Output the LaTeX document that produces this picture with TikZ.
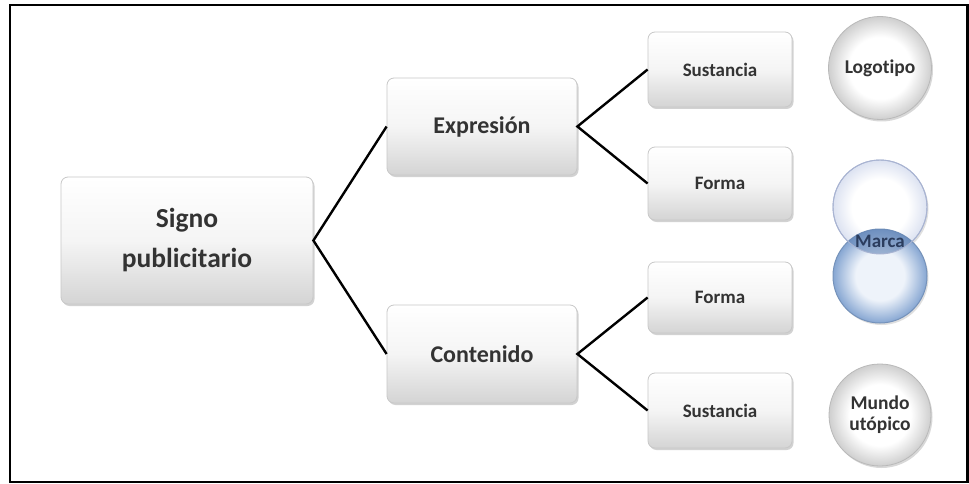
\documentclass[tikz,border=0pt]{standalone}
\usepackage{fontspec}
\setmainfont{Carlito}[Ligatures=NoCommon]
\usetikzlibrary{shadows,shapes.geometric}
\definecolor{txt}{HTML}{333333}
\definecolor{edgegray}{HTML}{C8C8C8}
\definecolor{boxbot}{HTML}{D4D4D4}
\definecolor{blueedge}{HTML}{7592BA}
\definecolor{blueout}{HTML}{86A6D2}
\definecolor{bluein}{HTML}{EEF3FA}
\definecolor{paleedge}{HTML}{A9B4D2}
\definecolor{paleout}{HTML}{DCE2F1}
\definecolor{overlap}{HTML}{5F82B4}
\definecolor{marcatxt}{HTML}{2B3D5E}
\pgfdeclareradialshading{ballshade}{\pgfpointorigin}{color(0bp)=(white); color(15bp)=(white); color(25bp)=(gray!38); color(50bp)=(gray!38)}
\pgfdeclareradialshading{paleshade}{\pgfpointorigin}{color(0bp)=(white); color(15bp)=(white); color(25bp)=(paleout); color(50bp)=(paleout)}
\pgfdeclareradialshading{blueshade}{\pgfpointorigin}{color(0bp)=(bluein); color(13bp)=(bluein); color(25bp)=(blueout); color(50bp)=(blueout)}
\tikzset{
  boxnode/.style={draw=edgegray, line width=0.8pt, rounded corners=7pt,
    top color=white, bottom color=boxbot, middle color=gray!8,
    drop shadow={shadow xshift=1.5pt, shadow yshift=-2pt, opacity=0.35},
    text=txt, font=\bfseries, align=center, inner sep=0pt},
  ballnode/.style={circle, draw=gray!55, line width=0.8pt, shading=ballshade,
    drop shadow={shadow xshift=1.5pt, shadow yshift=-2pt, opacity=0.3},
    text=txt, font=\bfseries, align=center, inner sep=0pt},
  link/.style={line width=2.4pt, black},
}
\begin{document}
\begin{tikzpicture}[x=1pt,y=-1pt]
\useasboundingbox (0,0) rectangle (969,484);
\fill[white] (0,0) rectangle (969,484);
\draw[line width=2.6pt, black] (10,5) rectangle (967.5,482);

\node[boxnode, minimum width=252pt, minimum height=127pt,
  font=\bfseries\fontsize{27.5}{40}\selectfont] (sig) at (187,240.5) {Signo\\publicitario};
\node[boxnode, minimum width=190pt, minimum height=97pt,
  font=\bfseries\fontsize{24}{28}\selectfont] (exp) at (482,126.5) {Expresión};
\node[boxnode, minimum width=190pt, minimum height=98pt,
  font=\bfseries\fontsize{24}{28}\selectfont] (con) at (482,354) {Contenido};

\node[boxnode, minimum width=144pt, minimum height=75pt,
  font=\bfseries\fontsize{19}{23}\selectfont] (s1) at (720,69.5) {Sustancia};
\node[boxnode, minimum width=144pt, minimum height=73pt,
  font=\bfseries\fontsize{19}{23}\selectfont] (f1) at (720,183.5) {Forma};
\node[boxnode, minimum width=144pt, minimum height=71pt,
  font=\bfseries\fontsize{19}{23}\selectfont] (f2) at (720,297.5) {Forma};
\node[boxnode, minimum width=144pt, minimum height=75pt,
  font=\bfseries\fontsize{19}{23}\selectfont] (s2) at (720,410.5) {Sustancia};

\draw[link] (exp.west) -- (sig.east) -- (con.west);
\draw[link] (s1.west) -- (exp.east) -- (f1.west);
\draw[link] (f2.west) -- (con.east) -- (s2.west);

\node[ballnode, minimum size=103pt,
  font=\bfseries\fontsize{19.5}{23}\selectfont] (logo) at (880,68) {Logotipo};
\node[ballnode, minimum size=102pt,
  font=\bfseries\fontsize{19.5}{21}\selectfont] (mundo) at (880,415) {Mundo\\utópico};

\node[circle, draw=paleedge, line width=0.9pt, minimum size=94pt,
  shading=paleshade,
  drop shadow={shadow xshift=1.5pt, shadow yshift=-2pt, opacity=0.25}] (mu) at (880,207) {};
\node[circle, draw=blueedge, line width=1pt, minimum size=94pt,
  shading=blueshade,
  drop shadow={shadow xshift=1.5pt, shadow yshift=-2pt, opacity=0.25}] (ml) at (880,276) {};
\begin{scope}
  \clip (880,207) circle (47pt);
  \fill[overlap, opacity=0.6] (880,276) circle (47pt);
\end{scope}
\draw[paleedge, line width=0.9pt] (880,207) circle (47pt);
\node[text=marcatxt, font=\bfseries\fontsize{19}{23}\selectfont] (marca) at (880,241) {Marca};
\end{tikzpicture}
\end{document}
